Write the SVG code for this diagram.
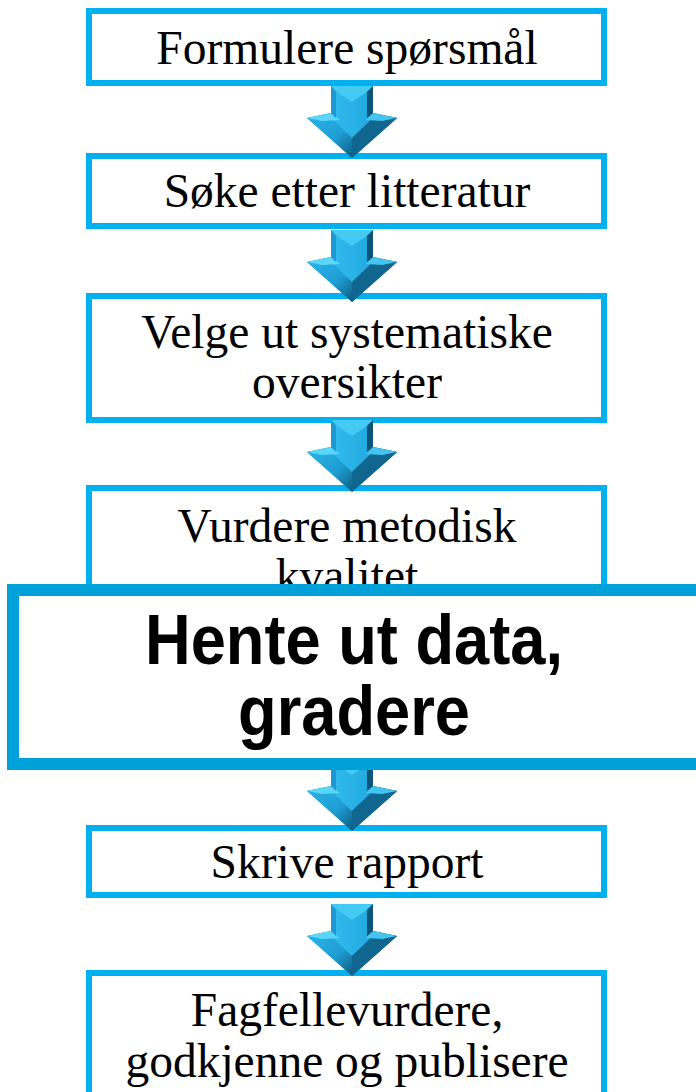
<svg xmlns="http://www.w3.org/2000/svg" xmlns:xlink="http://www.w3.org/1999/xlink" width="696" height="1092" viewBox="0 0 696 1092">
<style>
.box{fill:#ffffff;stroke:#00B0F0;stroke-width:6}
.big{fill:#ffffff;stroke:#00A0D8;stroke-width:12}
.t{font-family:"Liberation Serif","Times New Roman",serif;font-size:47.5px;fill:#000000;text-anchor:middle}
.tb{font-family:"Liberation Sans",Arial,sans-serif;font-size:70px;font-weight:bold;fill:#000000;text-anchor:middle}
</style>
<defs>
<linearGradient id="shaftG" x1="0" y1="0" x2="1" y2="0">
<stop offset="0" stop-color="#1a90c8"/>
<stop offset="0.25" stop-color="#33bcee"/>
<stop offset="0.7" stop-color="#22aae0"/>
<stop offset="0.85" stop-color="#1688bd"/>
<stop offset="1" stop-color="#0b5479"/>
</linearGradient>
<linearGradient id="headG" x1="0" y1="0" x2="1" y2="1">
<stop offset="0" stop-color="#2cb4e8"/>
<stop offset="0.6" stop-color="#1f9ed4"/>
<stop offset="1" stop-color="#0c5a80"/>
</linearGradient>
<g id="arrow">
<polygon points="-21,-72 21,-72 21,-45 45,-40 0,0 -45,-40 -21,-45" fill="url(#shaftG)"/>
<polygon points="-45,-40 -21,-45 -21,-40 0,-20 0,0" fill="url(#headG)"/>
<polygon points="45,-40 21,-45 21,-40 0,-20 0,0" fill="#1878a8"/>
<polygon points="0,-20 21,-40 45,-40 0,0" fill="#11668f"/>
<polygon points="-45,-40 -21,-45 -12,-38 -30,-37" fill="#5ad6f8"/>
<polygon points="45,-40 21,-45 14,-38 30,-37" fill="#42c6f0"/>
<polygon points="-21,-72 21,-72 12,-64 0,-56 -12,-64" fill="#45caf4"/>
<polygon points="15,-66 21,-72 21,-45 15,-40" fill="#0c5479"/>
<polygon points="-21,-72 -16,-66 -16,-40 -21,-45" fill="#1d98d0"/>
</g>
</defs>
<g id="node-1">
<rect class="box" x="89" y="11" width="515" height="72"/>
<text class="t" x="347" y="64">Formulere spørsmål</text>
</g>
<g id="node-2">
<rect class="box" x="89" y="156" width="515" height="70"/>
<text class="t" x="347" y="207">Søke etter litteratur</text>
</g>
<g id="node-3">
<rect class="box" x="89" y="296" width="515" height="124"/>
<text class="t" x="347" y="348">Velge ut systematiske</text>
<text class="t" x="347" y="398">oversikter</text>
</g>
<g id="node-4">
<rect class="box" x="89" y="488" width="515" height="150"/>
<text class="t" x="347" y="542">Vurdere metodisk</text>
<text class="t" x="347" y="592">kvalitet</text>
</g>
<g id="node-6">
<rect class="box" x="89" y="828" width="515" height="67"/>
<text class="t" x="347" y="878">Skrive rapport</text>
</g>
<g id="node-7">
<rect class="box" x="89" y="973" width="515" height="140"/>
<text class="t" x="347" y="1026">Fagfellevurdere,</text>
<text class="t" x="347" y="1077">godkjenne og publisere</text>
</g>
<g id="connectors">
<use xlink:href="#arrow" transform="translate(352,158)"/>
<use xlink:href="#arrow" transform="translate(352,302)"/>
<use xlink:href="#arrow" transform="translate(352,492)"/>
<use xlink:href="#arrow" transform="translate(352,831)"/>
<use xlink:href="#arrow" transform="translate(352,976)"/>
</g>
<g id="node-5">
<rect class="big" x="13" y="590" width="690" height="174"/>
<text class="tb" x="354" y="664" textLength="418" lengthAdjust="spacingAndGlyphs">Hente ut data,</text>
<text class="tb" x="354" y="735" textLength="232" lengthAdjust="spacingAndGlyphs">gradere</text>
</g>
</svg>
